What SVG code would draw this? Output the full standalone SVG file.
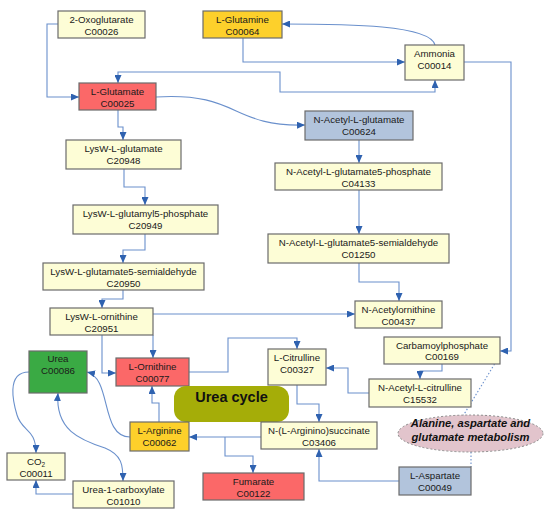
<svg xmlns="http://www.w3.org/2000/svg" width="550" height="517" viewBox="0 0 550 517">
<style>
.n rect{stroke:#6b6b6b;stroke-width:1.2}
.y{fill:#fdfdd6}
.r{fill:#fb6868}
.g{fill:#fdd02b}
.b{fill:#b2c4dc}
.gr{fill:#3aaa44}
text{font-family:"Liberation Sans",Arial,sans-serif;font-size:9.7px;fill:#1a1a1a;text-anchor:middle}
.e path{fill:none;stroke:#6a90cc;stroke-width:1.1}
.e path.a{marker-end:url(#ah)}
.e path.ab{marker-end:url(#ah);marker-start:url(#ah)}
.dot{fill:none;stroke:#7a93b8;stroke-width:1;stroke-dasharray:1.5 2}
</style>
<defs>
<marker id="ah" viewBox="0 0 8 7" refX="8" refY="3.5" markerWidth="8" markerHeight="7" markerUnits="userSpaceOnUse" orient="auto-start-reverse">
<path d="M0,0 L8,3.5 L0,7 z" fill="#2f62b0"/>
</marker>
</defs>
<rect width="550" height="517" fill="#ffffff"/>
<g class="e" id="connectors">
<path class="a" d="M58,24 H47 V97 H79"/>
<path class="a" d="M243,38 V62 H405"/>
<path class="a" d="M435,45 C430,25 350,24 282,24"/>
<path class="ab" d="M118,83 V72 H280 V92 H435 V80"/>
<path class="a" d="M156,97 C240,92 230,127 305,125"/>
<path class="a" d="M118,110 V127 H123 V140"/>
<path class="a" d="M124,169 V187 H145 V205"/>
<path class="a" d="M145,234 V250 H123 V263"/>
<path class="a" d="M123,290 V299 H102 V308"/>
<path class="a" d="M153,335 V358"/>
<path class="a" d="M153,314 H355"/>
<path class="a" d="M102,335 V373 H116"/>
<path class="a" d="M359,140 V163"/>
<path class="a" d="M359,190 V234"/>
<path class="a" d="M359,263 V282 H399 V301"/>
<path class="a" d="M189,372 H228 V338 H297 V349"/>
<path class="a" d="M369,393 H348 V368 H326"/>
<path class="a" d="M442,364 V371 H420 V379"/>
<path class="a" d="M464,62 H511 V351 H500"/>
<path class="a" d="M297,385 V404 H319 V422"/>
<path class="a" d="M261,437 H189"/>
<path class="a" d="M225,437 V456 H253 V473"/>
<path class="a" d="M399,481 H319 V449"/>
<path class="a" d="M159,422 V403 H152 V386"/>
<path class="a" d="M130,437 C100,437 112,378 87,372"/>
<path class="a" d="M29,372 C5,372 14,405 17,415 C22,432 36,428 36,453"/>
<path class="ab" d="M58,393 C55,430 80,440 105,448 C122,455 123,465 123,481"/>
<path class="a" d="M73,494 H36 V480"/>
<path class="dot" d="M500,355 L463,416"/>
<path class="dot" d="M471,452 V467"/>
</g>
<g class="n" id="n-oxoglutarate"><rect class="y" x="58" y="11" width="87" height="27"/><text x="101.5" y="23">2-Oxoglutarate</text><text x="101.5" y="34.5">C00026</text></g>
<g class="n" id="n-glutamine"><rect class="g" x="203" y="11" width="79" height="27"/><text x="242.5" y="23">L-Glutamine</text><text x="242.5" y="34.5">C00064</text></g>
<g class="n" id="n-ammonia"><rect class="y" x="405" y="45" width="59" height="35"/><text x="434.5" y="57">Ammonia</text><text x="434.5" y="68.5">C00014</text></g>
<g class="n" id="n-glutamate"><rect class="r" x="79" y="83" width="77" height="27"/><text x="117.5" y="95">L-Glutamate</text><text x="117.5" y="106.5">C00025</text></g>
<g class="n" id="n-nacglu"><rect class="b" x="305" y="111" width="108" height="29"/><text x="359" y="123">N-Acetyl-L-glutamate</text><text x="359" y="134.5">C00624</text></g>
<g class="n" id="n-nacglup"><rect class="y" x="275" y="163" width="167" height="27"/><text x="358.5" y="175">N-Acetyl-L-glutamate5-phosphate</text><text x="358.5" y="186.5">C04133</text></g>
<g class="n" id="n-nacglus"><rect class="y" x="268" y="234" width="181" height="29"/><text x="358.5" y="246">N-Acetyl-L-glutamate5-semialdehyde</text><text x="358.5" y="257.5">C01250</text></g>
<g class="n" id="n-nacorn"><rect class="y" x="355" y="301" width="87" height="27"/><text x="398.5" y="313">N-Acetylornithine</text><text x="398.5" y="324.5">C00437</text></g>
<g class="n" id="n-carb"><rect class="y" x="384" y="337" width="116" height="27"/><text x="442" y="348.5">Carbamoylphosphate</text><text x="442" y="360">C00169</text></g>
<g class="n" id="n-nacit"><rect class="y" x="369" y="379" width="102" height="28"/><text x="420" y="391">N-Acetyl-L-citrulline</text><text x="420" y="402.5">C15532</text></g>
<g class="n" id="n-citrulline"><rect class="y" x="268" y="349" width="58" height="36"/><text x="297" y="361">L-Citrulline</text><text x="297" y="372.5">C00327</text></g>
<g class="n" id="n-lysglu"><rect class="y" x="66" y="140" width="115" height="29"/><text x="123.5" y="152">LysW-L-glutamate</text><text x="123.5" y="163.5">C20948</text></g>
<g class="n" id="n-lysglup"><rect class="y" x="73" y="205" width="145" height="29"/><text x="145.5" y="217">LysW-L-glutamyl5-phosphate</text><text x="145.5" y="228.5">C20949</text></g>
<g class="n" id="n-lyssemi"><rect class="y" x="43" y="263" width="161" height="27"/><text x="123.5" y="275">LysW-L-glutamate5-semialdehyde</text><text x="123.5" y="286.5">C20950</text></g>
<g class="n" id="n-lysorn"><rect class="y" x="50" y="308" width="103" height="27"/><text x="101.5" y="320">LysW-L-ornithine</text><text x="101.5" y="331.5">C20951</text></g>
<g class="n" id="n-urea"><rect class="gr" x="29" y="351" width="58" height="42"/><text x="58" y="362">Urea</text><text x="58" y="373.5">C00086</text></g>
<g class="n" id="n-ornithine"><rect class="r" x="116" y="358" width="73" height="28"/><text x="152.5" y="370">L-Ornithine</text><text x="152.5" y="381.5">C00077</text></g>
<g id="n-ureacycle"><rect x="174" y="386" width="115" height="36" rx="12" ry="12" fill="#a5ad08"/><text x="231.5" y="402" style="font-size:14.5px;font-weight:bold;fill:#111">Urea cycle</text></g>
<g class="n" id="n-arginine"><rect class="g" x="130" y="422" width="59" height="29"/><text x="159.5" y="434">L-Arginine</text><text x="159.5" y="445.5">C00062</text></g>
<g class="n" id="n-argsucc"><rect class="y" x="261" y="422" width="116" height="27"/><text x="319" y="434">N-(L-Arginino)succinate</text><text x="319" y="445.5">C03406</text></g>
<g class="n" id="n-co2"><rect class="y" x="7" y="453" width="58" height="27"/><text x="36" y="465">CO<tspan style="font-size:6.5px" dy="2">2</tspan></text><text x="36" y="476.5">C00011</text></g>
<g class="n" id="n-urea1c"><rect class="y" x="73" y="481" width="101" height="27"/><text x="123.5" y="493">Urea-1-carboxylate</text><text x="123.5" y="504.5">C01010</text></g>
<g class="n" id="n-fumarate"><rect class="r" x="203" y="473" width="101" height="27"/><text x="253.5" y="485">Fumarate</text><text x="253.5" y="496.5">C00122</text></g>
<g class="n" id="n-aspartate"><rect class="b" x="399" y="467" width="72" height="28"/><text x="435" y="479">L-Aspartate</text><text x="435" y="490.5">C00049</text></g>
<g id="n-alametab"><ellipse cx="470.5" cy="433.5" rx="72.5" ry="18.5" fill="#e2c4cc" stroke="#8a8a8a" stroke-width="1" stroke-dasharray="2 2"/><text x="470.5" y="427" style="font-size:11.2px;font-weight:bold;font-style:italic;fill:#111">Alanine, aspartate and</text><text x="470.5" y="440.5" style="font-size:11.2px;font-weight:bold;font-style:italic;fill:#111">glutamate metabolism</text></g>
</svg>
